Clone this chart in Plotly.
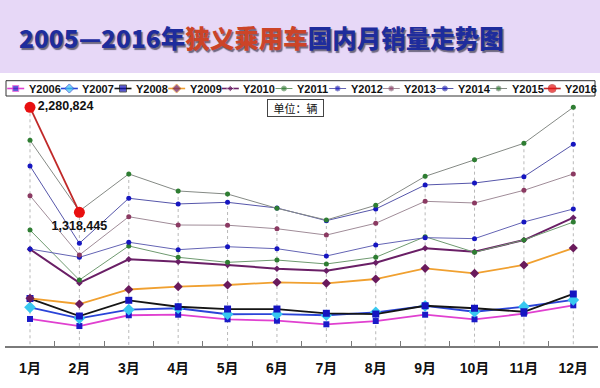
import plotly.graph_objects as go

W, H = 600, 388

months = ["1月", "2月", "3月", "4月", "5月", "6月", "7月", "8月", "9月", "10月", "11月", "12月"]
years = ["Y2006", "Y2007", "Y2008", "Y2009", "Y2010", "Y2011", "Y2012", "Y2013", "Y2014", "Y2015", "Y2016"]

y2006 = [341000, 276000, 375000, 380000, 338000, 325000, 292000, 322000, 380000, 338000, 389000, 466000]
y2007 = [448000, 347000, 426000, 439000, 384000, 386000, 375000, 402000, 460000, 407000, 453000, 515000]
y2008 = [528000, 368000, 512000, 453000, 432000, 432000, 393000, 386000, 462000, 439000, 407000, 570000]
y2009 = [530000, 478000, 611000, 637000, 652000, 677000, 668000, 707000, 805000, 759000, 836000, 991000]
y2010 = [980000, 671000, 888000, 866000, 836000, 802000, 783000, 857000, 989000, 957000, 1064000, 1269000]
y2011 = [1156000, 698000, 1010000, 906000, 860000, 881000, 845000, 906000, 1095000, 952000, 1065000, 1229000]
y2012 = [982000, 906000, 1044000, 976000, 1003000, 985000, 918000, 1019000, 1086000, 1077000, 1230000, 1349000]
y2013 = [1471000, 927000, 1278000, 1202000, 1200000, 1168000, 1110000, 1218000, 1419000, 1404000, 1520000, 1670000]
y2014 = [1743000, 1034000, 1447000, 1395000, 1410000, 1358000, 1242000, 1349000, 1569000, 1587000, 1645000, 1942000]
y2015 = [1978000, 1330000, 1670000, 1514000, 1486000, 1355000, 1248000, 1383000, 1648000, 1801000, 1951000, 2281000]
y2016 = [2280824, 1318445]

series = [y2006, y2007, y2008, y2009, y2010, y2011, y2012, y2013, y2014, y2015, y2016]

title_a = "2005—2016年"
title_b = "狭义乘用车"
title_c = "国内月销量走势图"
unit_text = "单位：辆"

# styles: line color, line width, marker symbol, marker color, marker size
styles = {
    "Y2006": ("#e040d0", 1.8, "square", "#1a1ac8", 6),
    "Y2007": ("#2a44d8", 1.8, "diamond", "#38c8f0", 9),
    "Y2008": ("#151515", 1.8, "square", "#1414c0", 7),
    "Y2009": ("#f0a030", 1.8, "diamond", "#6a1a5c", 7),
    "Y2010": ("#6a1f66", 2.0, "diamond", "#6a1f66", 5),
    "Y2011": ("#6f9a70", 1.0, "circle", "#2e7d32", 5),
    "Y2012": ("#6464b4", 1.0, "circle", "#1616c0", 5),
    "Y2013": ("#a08c98", 1.0, "circle", "#8b3a62", 5),
    "Y2014": ("#5656aa", 1.0, "circle", "#1616c0", 5),
    "Y2015": ("#858a85", 1.0, "circle", "#2e7d32", 5),
    "Y2016": ("#c02828", 1.8, "circle", "#e81010", 11),
}

Y_MIN, Y_MAX = 93138, 2347728
PLOT_L, PLOT_R, PLOT_T, PLOT_B = 5.3, 598.0, 100.0, 346.0

fig = go.Figure()

# drop lines from the highest point of each month to the axis
dx, dy = [], []
for i, m in enumerate(months):
    vals = [s[i] for s in series if i < len(s)]
    dx += [m, m, None]
    dy += [max(vals), Y_MIN, None]
fig.add_trace(go.Scatter(x=dx, y=dy, mode="lines", line=dict(color="#b8b8b8", width=1, dash="dot"),
                         hoverinfo="skip", showlegend=False))

for name, vals in zip(years, series):
    lc, lw, sym, mc, ms = styles[name]
    kw = {}
    mode = "lines+markers"
    if name == "Y2016":
        mode = "lines+markers+text"
        kw = dict(text=[f"{v:,}" for v in vals], textposition=["middle right", "bottom center"],
                  textfont=dict(family="Liberation Sans, Arial", size=12.5, color="#111", weight="bold"))
    fig.add_trace(go.Scatter(x=months[:len(vals)], y=vals, mode=mode, name=name,
                             line=dict(color=lc, width=lw),
                             marker=dict(symbol=sym, color=mc, size=ms, line=dict(width=0)),
                             showlegend=False, cliponaxis=False, **kw))

# custom legend in a full-figure pixel subplot
LEG_Y = 88.5
for i, name in enumerate(years):
    lc, lw, sym, mc, ms = styles[name]
    tx = 26.7 + 53.65 * i
    fig.add_trace(go.Scatter(x=[tx - 19.5, tx - 11, tx - 2.5], y=[LEG_Y, LEG_Y, LEG_Y], xaxis="x2", yaxis="y2",
                             mode="lines+markers", line=dict(color=lc, width=min(lw, 1.6)),
                             marker=dict(symbol=sym, color=mc, size=[0, min(ms, 7) if name != "Y2016" else 8, 0]),
                             hoverinfo="skip", showlegend=False))
    fig.add_annotation(x=tx, y=LEG_Y, xref="x2", yref="y2", text=name, showarrow=False, xanchor="left",
                       yanchor="middle", font=dict(family="Liberation Sans, Arial", size=11, color="#111", weight="bold"))

shapes = [
    dict(type="rect", xref="paper", yref="paper", x0=0, x1=1, y0=1 - 73 / H, y1=1,
         fillcolor="#e7d8f7", line=dict(width=0), layer="below"),
    dict(type="rect", xref="x2", yref="y2", x0=6, x1=595, y0=80.7, y1=96,
         line=dict(color="#333333", width=1), fillcolor="rgba(0,0,0,0)"),
]

title_html = f"{title_a}<span style='color:#cc4428'>{title_b}</span>{title_c}"
annotations = [
    dict(x=261, y=37, xref="x2", yref="y2", text=title_html, showarrow=False,
         font=dict(family="Noto Sans CJK SC", size=24.5, color="#1e2c9c", weight=900,
                   shadow="1.5px 1.5px 1px rgba(30,30,50,0.6)")),
    dict(x=295.5, y=108, xref="x2", yref="y2", text=unit_text, showarrow=False, width=55, height=16,
         bordercolor="#444444", borderwidth=1, borderpad=0, bgcolor="white",
         font=dict(family="Noto Sans CJK SC", size=11, color="#111")),
]

fig.update_layout(
    width=W, height=H, autosize=False,
    margin=dict(l=0, r=0, t=0, b=0),
    paper_bgcolor="white", plot_bgcolor="rgba(0,0,0,0)",
    showlegend=False,
    shapes=shapes,
    xaxis=dict(type="category", categoryorder="array", categoryarray=months, range=[-0.5, 11.5],
               domain=[PLOT_L / W, PLOT_R / W], anchor="y", showline=True, linecolor="#7a7a7a", linewidth=1.5,
               ticks="inside", ticklen=5, tickcolor="#7a7a7a", tickwidth=1, tickson="boundaries",
               showgrid=False, zeroline=False, ticklabelstandoff=8,
               tickfont=dict(family="Liberation Sans, Noto Sans CJK SC", size=14, color="#111", weight="bold")),
    yaxis=dict(range=[Y_MIN, Y_MAX], domain=[(H - PLOT_B) / H, (H - PLOT_T) / H], anchor="x", visible=False),
    xaxis2=dict(domain=[0, 1], range=[0, W], anchor="y2", visible=False),
    yaxis2=dict(domain=[0, 1], range=[H, 0], anchor="x2", visible=False),
)
for a in annotations:
    fig.add_annotation(**a)

fig.write_html("out.html", config={"displayModeBar": False},
               post_script="document.body.style.margin='0';document.body.style.padding='0';")
